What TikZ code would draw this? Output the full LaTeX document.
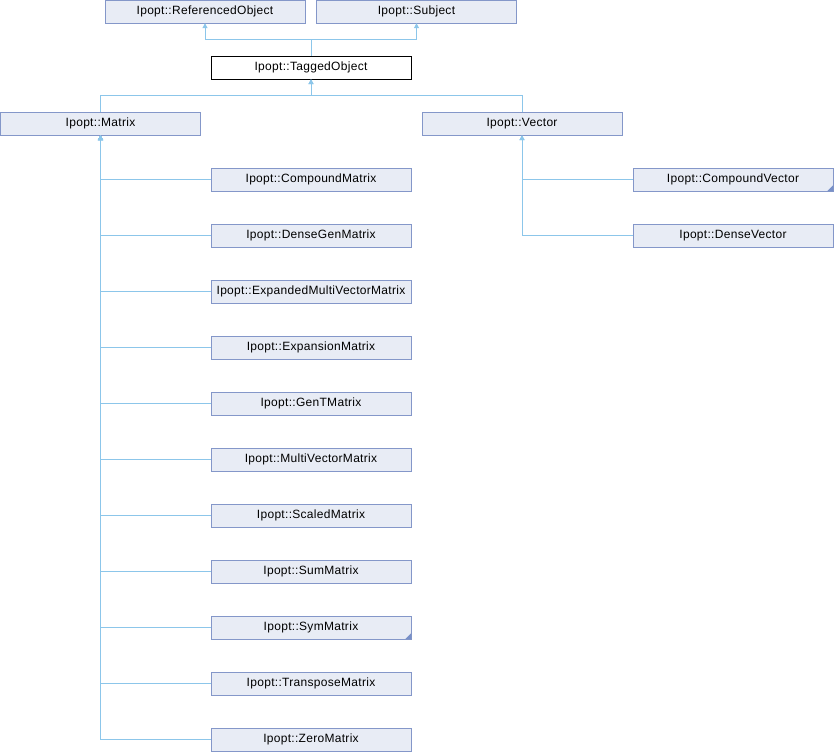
\documentclass[tikz,border=0pt]{standalone}
\usepackage{fontspec}
\setmainfont[LetterSpace=2.5]{Liberation Sans}
\usetikzlibrary{arrows.meta}
\definecolor{boxfill}{HTML}{E8ECF5}
\definecolor{boxline}{HTML}{8497C9}
\definecolor{edgeblue}{HTML}{8CC6EA}
\definecolor{cornerblue}{HTML}{7890C8}

\begin{document}
\begin{tikzpicture}[x=1pt,y=-1pt,
    cls/.style={draw=boxline,fill=boxfill,minimum width=200pt,minimum height=23pt,
      inner sep=0pt,font=\fontsize{12}{14}\selectfont},
    cur/.style={cls,draw=black,fill=white},
    inh/.style={draw=edgeblue,line width=1pt,-{Triangle[width=5pt,length=5pt]}}]
    \useasboundingbox (0,0) rectangle (834,752);
    % top row
    \node[cls] (refobj) at (205,11.5){Ipopt::ReferencedObject};
    \node[cls] (subject) at (416.5,11.5){Ipopt::Subject};
    \node[cur] (tagged) at (311,67.5){Ipopt::TaggedObject};
    \node[cls] (matrix) at (100.5,123.5){Ipopt::Matrix};
    \node[cls] (vector) at (522,123.5){Ipopt::Vector};
    \coordinate (pbus) at (311,39.5);
    \coordinate (tbus) at (311,95.5);
    \draw[inh] (tagged.north) -- (pbus) -| (refobj.south);
    \draw[inh] (tagged.north) -- (pbus) -| (subject.south);
    \draw[inh] (matrix.north) |- (tbus) -- (tagged.south);
    \draw[inh] (vector.north) |- (tbus) -- (tagged.south);
    % matrix subclasses
    \foreach \nm/\txt [count=\i from 0] in {cmat/CompoundMatrix,dgmat/DenseGenMatrix,
        emvmat/ExpandedMultiVectorMatrix,expmat/ExpansionMatrix,gtmat/GenTMatrix,
        mvmat/MultiVectorMatrix,scmat/ScaledMatrix,summat/SumMatrix,symmat/SymMatrix,
        trmat/TransposeMatrix,zmat/ZeroMatrix}{
      \node[cls] (\nm) at (311,179.5+56*\i){Ipopt::\txt};
      \draw[inh] (\nm.west) -| (matrix.south);
    }
    % vector subclasses
    \node[cls] (cvec) at (733,179.5){Ipopt::CompoundVector};
    \node[cls] (dvec) at (733,235.5){Ipopt::DenseVector};
    \draw[inh] (cvec.west) -| (vector.south);
    \draw[inh] (dvec.west) -| (vector.south);
    % has-more markers
    \fill[cornerblue] (symmat.south east) -- ++(-6,0) -- ++(6,-6) -- cycle;
    \fill[cornerblue] (cvec.south east) -- ++(-6,0) -- ++(6,-6) -- cycle;
\end{tikzpicture}
\end{document}
